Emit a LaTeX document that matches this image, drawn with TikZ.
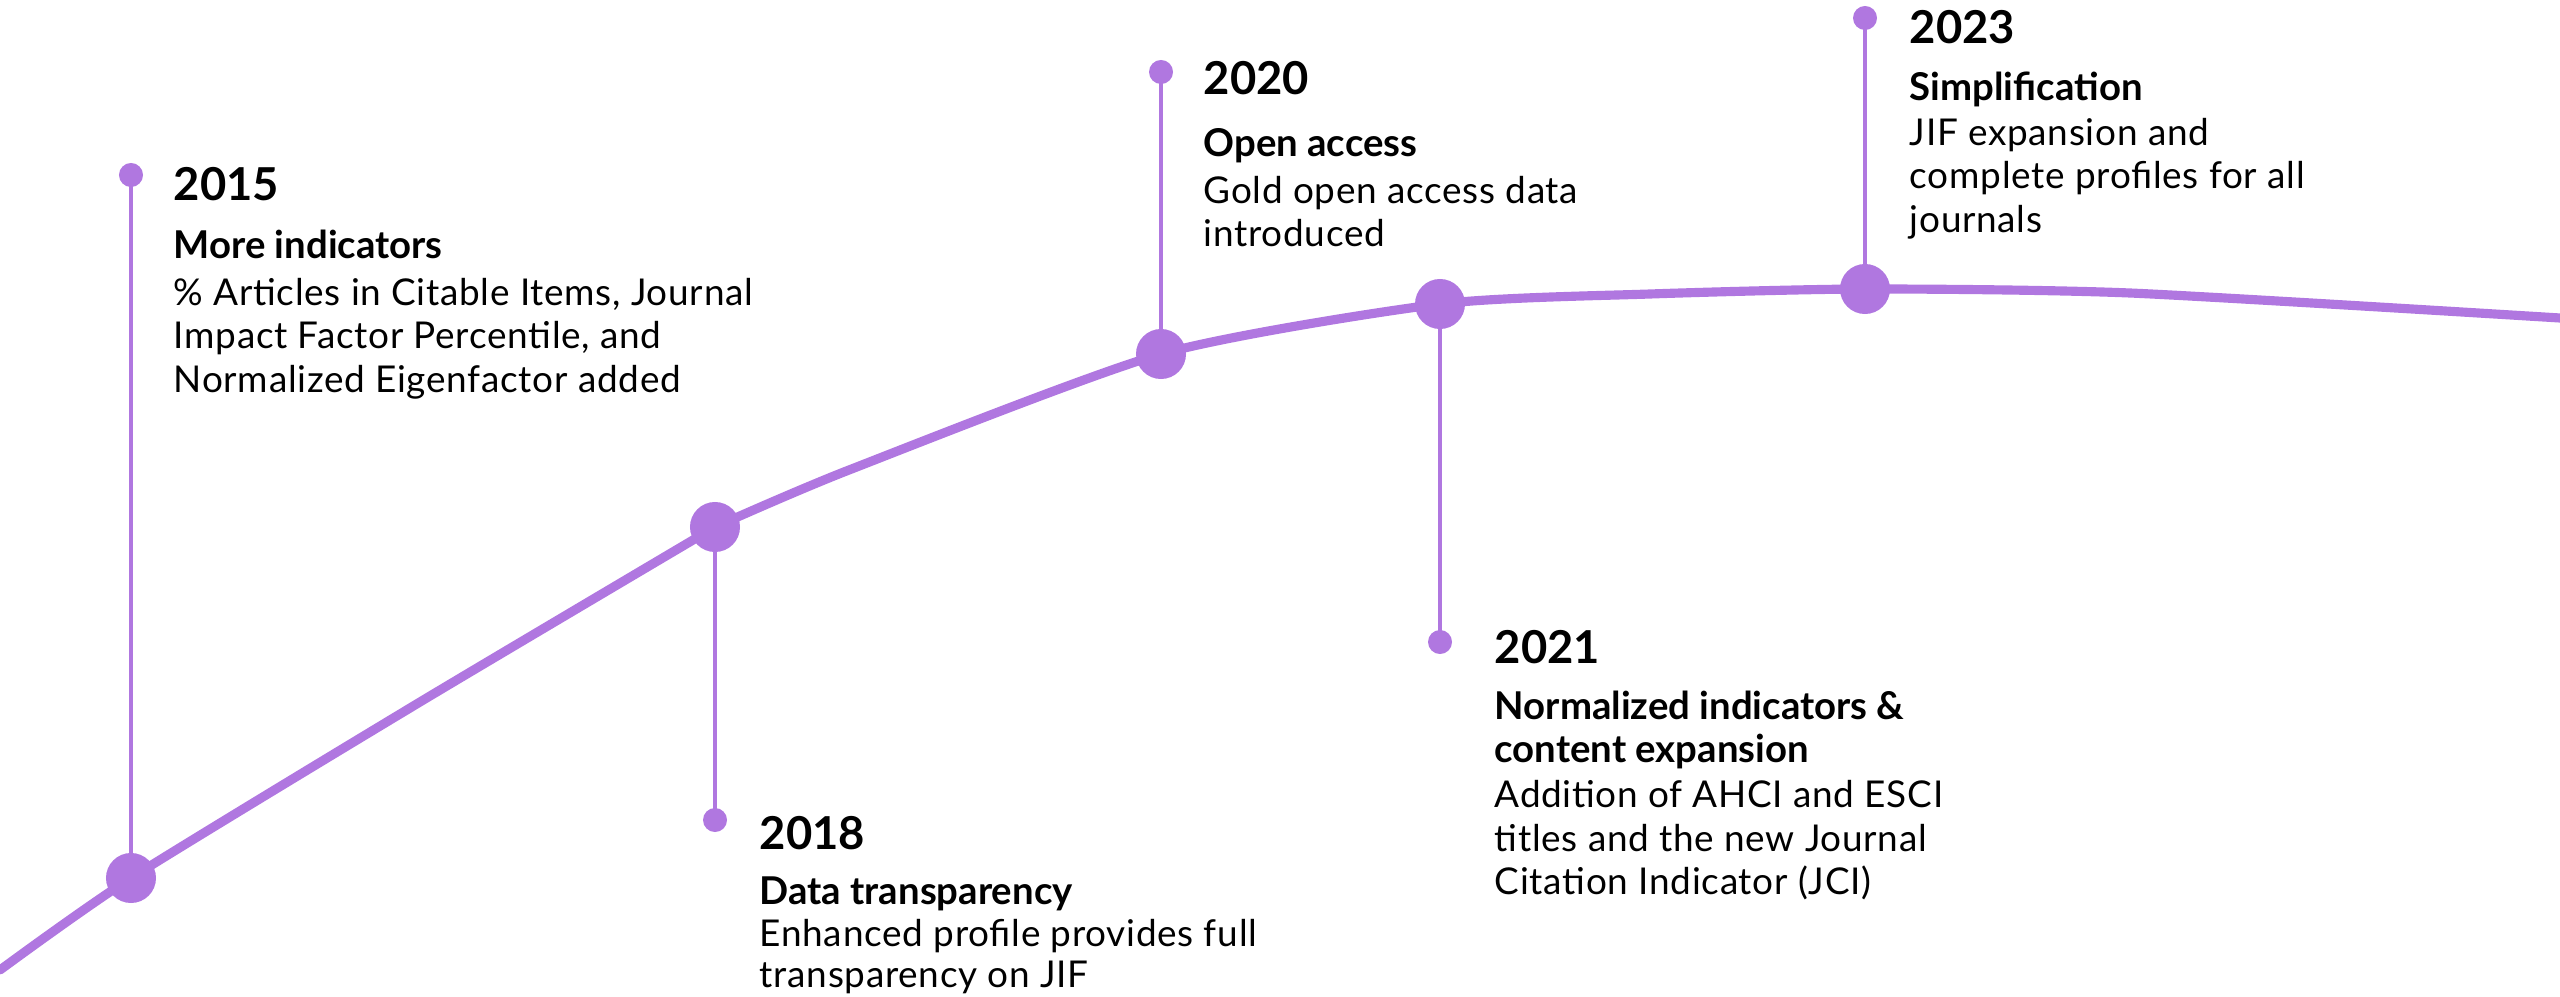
\documentclass[tikz,border=0pt]{standalone}
\usepackage{fontspec}
\setmainfont{Lato}
\newfontfamily\bodyfont{Lato}[LetterSpace=2]
\usepackage{xcolor}
\definecolor{tlpurple}{HTML}{B077E0}
\tikzset{
	curve/.style={tlpurple, line width=2.6pt, line cap=round, line join=round},
	stem/.style={tlpurple, line width=0.9pt},
	bigdot/.style={circle, fill=tlpurple, inner sep=0pt, minimum size=0.5cm},
	smalldot/.style={circle, fill=tlpurple, inner sep=0pt, minimum size=0.24cm},
	year/.style={anchor=base west, inner sep=0pt, font=\fontsize{12.9}{15}\selectfont\bfseries},
	info/.style={anchor=north west, inner sep=0pt, align=left, font=\bodyfont\fontsize{10.5}{12.3}\selectfont},
}
\newcommand{\ttl}[1]{{\normalfont\fontsize{10.9}{12.3}\selectfont\bfseries #1}}
\begin{document}
\begin{tikzpicture}[x=0.01cm, y=-0.01cm]
		\useasboundingbox (0,0) rectangle (2560,997);
		\coordinate (c15) at (131,878);
		\coordinate (c18) at (715,527);
		\coordinate (c20) at (1161,354);
		\coordinate (c21) at (1440,304);
		\coordinate (c23) at (1865,289);
		\draw [curve] plot[smooth, tension=0.4] coordinates {(0,970) (c15) (420,702) (c18)};
		\draw [curve] plot[smooth, tension=0.4] coordinates {(c18) (849,470) (c20) (c21) (1650,294) (c23) (2130,293) (2560,318)};
		% milestones
		\node[smalldot] (s15) at (131,175) {};
		\node[smalldot] (s18) at (715,820) {};
		\node[smalldot] (s20) at (1161,72) {};
		\node[smalldot] (s21) at (1440,642) {};
		\node[smalldot] (s23) at (1865,18) {};
		\draw [stem] (s15.center) -- (c15);
		\draw [stem] (s18.center) -- (c18);
		\draw [stem] (s20.center) -- (c20);
		\draw [stem] (s21.center) -- (c21);
		\draw [stem] (s23.center) -- (c23);
		\node[bigdot] (p15) at (c15) {};
		\node[bigdot] (p18) at (c18) {};
		\node[bigdot] (p20) at (c20) {};
		\node[bigdot] (p21) at (c21) {};
		\node[bigdot] (p23) at (c23) {};
		% texts
		\node[year] (y15) at (173,201) {2015};
		\node[info] (t15) at (173,229) {\ttl{More indicators}\\[1.2pt] \% Articles in Citable Items, Journal\\ Impact Factor Percentile, and\\ Normalized Eigenfactor added};
		\node[year] (y18) at (759,849) {2018};
		\node[info] (t18) at (759,876) {\ttl{Data transparency}\\[-0.2pt] Enhanced profile provides full\\[-0.9pt] transparency on JIF};
		\node[year] (y20) at (1203,95) {2020};
		\node[info] (t20) at (1203,128) {\ttl{Open access}\\[0.9pt] Gold open access data\\ introduced};
		\node[year] (y21) at (1494,663) {2021};
		\node[info] (t21) at (1494,690) {\ttl{Normalized indicators \&}\\ \ttl{content expansion}\\[0.6pt] Addition of AHCI and ESCI\\ titles and the new Journal\\ Citation Indicator (JCI)};
		\node[year] (y23) at (1909,44) {2023};
		\node[info] (t23) at (1909,71) {\ttl{Simplification}\\[0.6pt] JIF expansion and\\ complete profiles for all\\ journals};
	\end{tikzpicture}
\end{document}
